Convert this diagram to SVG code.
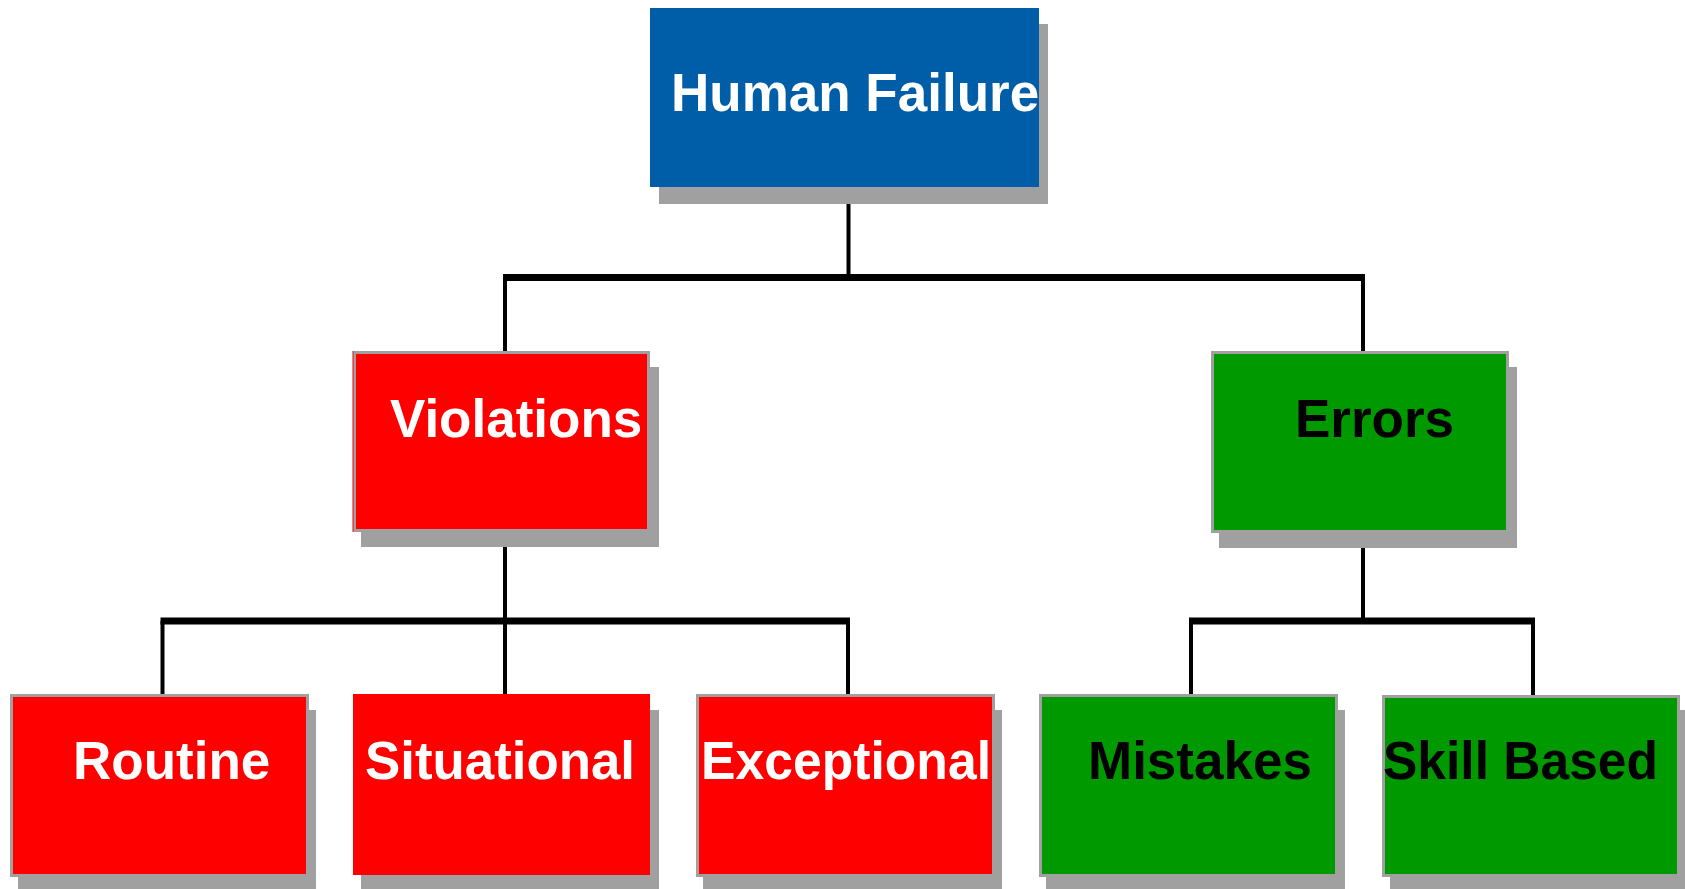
<svg xmlns="http://www.w3.org/2000/svg" width="1685" height="889" viewBox="0 0 1685 889">
<style>
.shadow{fill:#a0a0a0}
.red{fill:#ff0000}
.green{fill:#009900}
.blue{fill:#005ea8}
.bord{stroke:#a0a0a0;stroke-width:3}
.lbl{font-family:"Liberation Sans",Arial,sans-serif;font-weight:bold;font-size:53px}
.w{fill:#ffffff}
.k{fill:#000000}
.v{stroke:#000;stroke-width:4;fill:none}
.h{stroke:#000;stroke-width:7;fill:none}
</style>
<rect width="1685" height="889" fill="#ffffff"/>
<g id="connectors">
<line class="v" x1="848.5" y1="204" x2="848.5" y2="278"/>
<line class="h" x1="503" y1="277.5" x2="1365" y2="277.5"/>
<line class="v" x1="505" y1="277" x2="505" y2="352"/>
<line class="v" x1="1363" y1="277" x2="1363" y2="352"/>
<line class="v" x1="505" y1="547" x2="505" y2="621"/>
<line class="h" x1="160.5" y1="621" x2="850" y2="621"/>
<line class="v" x1="162.5" y1="621" x2="162.5" y2="695"/>
<line class="v" x1="505" y1="621" x2="505" y2="695"/>
<line class="v" x1="848" y1="621" x2="848" y2="695"/>
<line class="v" x1="1363" y1="547" x2="1363" y2="621"/>
<line class="h" x1="1189" y1="621" x2="1535" y2="621"/>
<line class="v" x1="1191" y1="621" x2="1191" y2="695"/>
<line class="v" x1="1533" y1="621" x2="1533" y2="695"/>
</g>
<g id="human-failure">
<rect class="shadow" x="659" y="24" width="389" height="180"/>
<rect class="blue" x="650" y="8" width="389" height="179"/>
<text class="lbl w" x="671" y="111">Human Failure</text>
</g>
<g id="violations">
<rect class="shadow" x="361" y="367" width="298" height="180"/>
<rect class="red bord" x="354.5" y="352.5" width="294" height="178"/>
<line x1="353" y1="351" x2="353" y2="532" stroke="#ff0000" stroke-width="1"/>
<text class="lbl w" x="390" y="437">Violations</text>
</g>
<g id="errors">
<rect class="shadow" x="1219" y="367" width="298" height="181"/>
<rect class="green bord" x="1212.5" y="352.5" width="295" height="179"/>
<text class="lbl k" x="1295" y="437">Errors</text>
</g>
<g id="routine">
<rect class="shadow" x="18" y="710" width="298" height="179"/>
<rect class="red bord" x="11.5" y="695.5" width="296" height="180"/>
<text class="lbl w" x="73" y="779">Routine</text>
</g>
<g id="situational">
<rect class="shadow" x="361" y="710" width="298" height="179"/>
<rect class="red" x="353" y="694" width="297" height="181"/>
<text class="lbl w" x="365" y="779" textLength="270" lengthAdjust="spacingAndGlyphs">Situational</text>
</g>
<g id="exceptional">
<rect class="shadow" x="703" y="710" width="299" height="179"/>
<rect class="red bord" x="697.5" y="695.5" width="296" height="180"/>
<text class="lbl w" x="701" y="779" textLength="290" lengthAdjust="spacingAndGlyphs">Exceptional</text>
</g>
<g id="mistakes">
<rect class="shadow" x="1046" y="710" width="299" height="179"/>
<rect class="green bord" x="1040.5" y="695.5" width="296" height="180"/>
<text class="lbl k" x="1088" y="779">Mistakes</text>
</g>
<g id="skill-based">
<rect class="shadow" x="1390" y="710" width="295" height="179"/>
<rect class="green bord" x="1383.5" y="696.5" width="295" height="179"/>
<text class="lbl k" x="1383" y="779" textLength="275" lengthAdjust="spacingAndGlyphs">Skill Based</text>
</g>
</svg>
